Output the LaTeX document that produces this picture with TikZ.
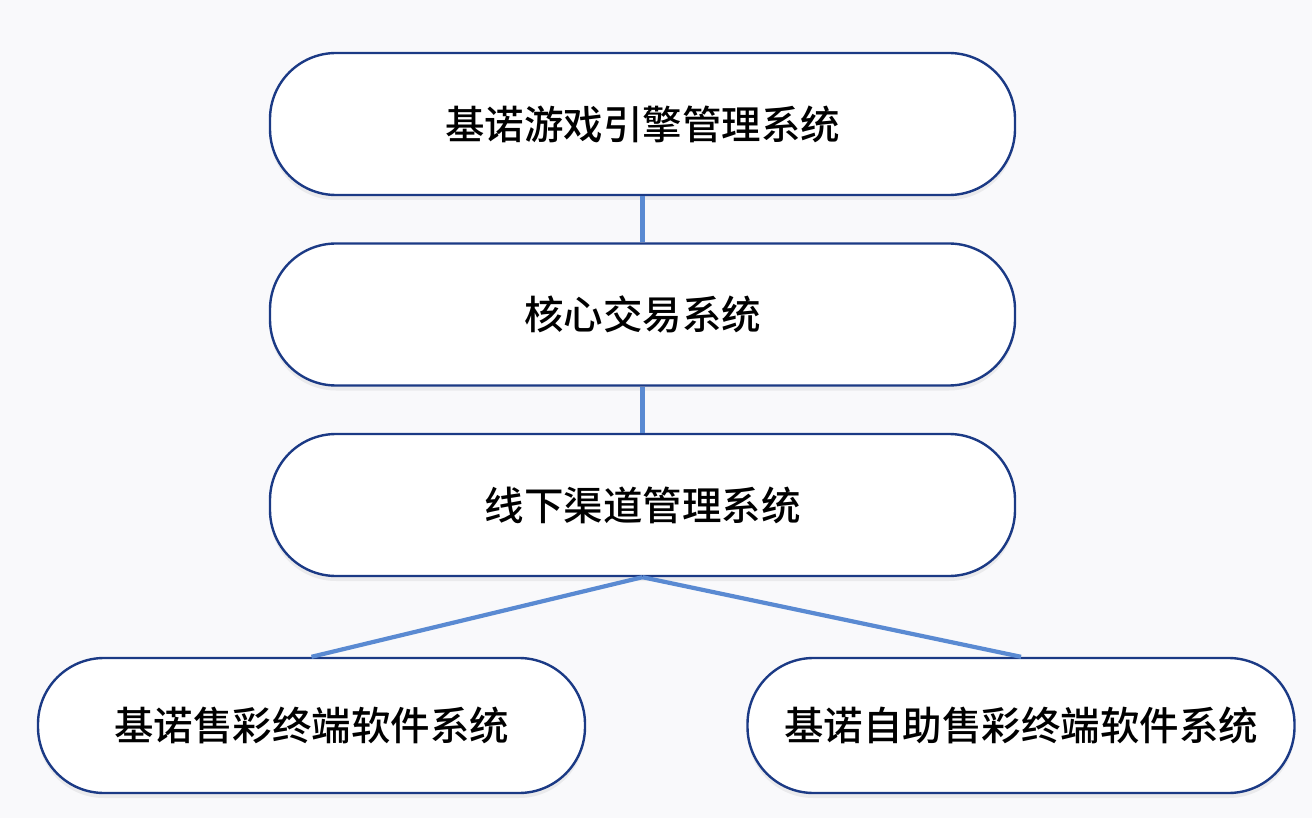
\documentclass[tikz,border=0pt]{standalone}
\usepackage{fontspec}
\newfontfamily\cjk{Noto Sans CJK SC Medium}
\usetikzlibrary{shadows}
\definecolor{bgc}{HTML}{F9F9FB}
\definecolor{edgec}{HTML}{1B3A85}
\definecolor{linkc}{HTML}{5A8AD2}
\tikzset{
  sysbox/.style={draw=edgec, line width=2.4pt, fill=white, rounded corners=66pt,
    inner sep=0pt, font=\cjk\fontsize{39.5}{42}\selectfont, text=black,
    drop shadow={opacity=0.12, shadow xshift=0pt, shadow yshift=-5pt}},
  wide/.style={minimum width=745pt, minimum height=142pt},
  leaf/.style={minimum width=547pt, minimum height=135pt},
  link/.style={draw=linkc, line width=4.2pt}
}
\begin{document}
\begin{tikzpicture}[x=1pt,y=-1pt]
\fill[bgc] (0,0) rectangle (1312,818);
\useasboundingbox (0,0) rectangle (1312,818);
\node[sysbox, wide] (a) at (642.5,124) {基诺游戏引擎管理系统};
\node[sysbox, wide] (b) at (642.5,314.5) {核心交易系统};
\node[sysbox, wide] (c) at (642.5,505) {线下渠道管理系统};
\node[sysbox, leaf] (d) at (311.5,725.5) {基诺售彩终端软件系统};
\node[sysbox, leaf] (e) at (1021,725.5) {基诺自助售彩终端软件系统};
\draw[link] (a.south) -- (b.north);
\draw[link] (b.south) -- (c.north);
\draw[link] (c.south) -- (d.north);
\draw[link] (c.south) -- (e.north);
\end{tikzpicture}
\end{document}
